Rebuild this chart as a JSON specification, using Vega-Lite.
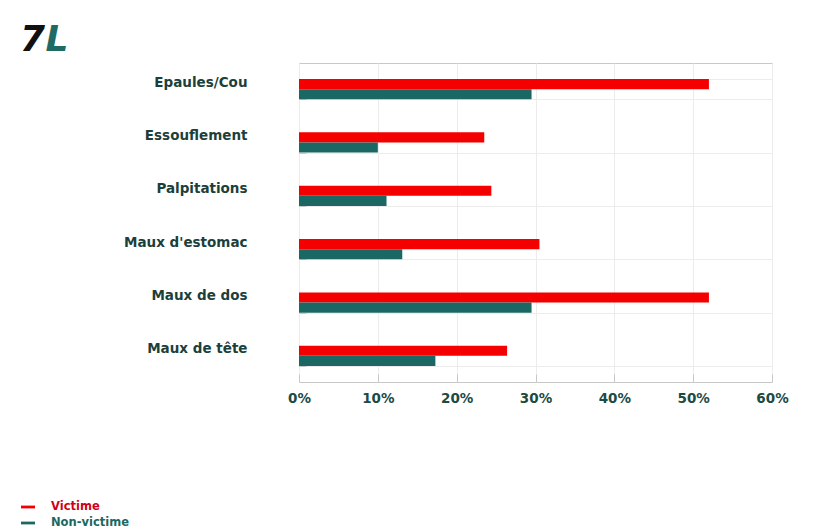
{
  "$schema": "https://vega.github.io/schema/vega-lite/v6.json",
  "autosize": "none",
  "width": 473,
  "height": 319,
  "padding": {"left": 299, "top": 63, "right": 54, "bottom": 149},
  "background": "white",
  "title": {
    "text": "7",
    "anchor": "start",
    "frame": "group",
    "dx": -279,
    "dy": 38,
    "font": "DejaVu Sans",
    "fontSize": 36,
    "fontWeight": "bold",
    "fontStyle": "italic",
    "color": "#111111",
    "offset": 0
  },
  "data": {
    "values": [
      {"cat": "Epaules/Cou", "group": "Victime", "value": 52},
      {"cat": "Epaules/Cou", "group": "Non-victime", "value": 29.5},
      {"cat": "Essouflement", "group": "Victime", "value": 23.5},
      {"cat": "Essouflement", "group": "Non-victime", "value": 10},
      {"cat": "Palpitations", "group": "Victime", "value": 24.4},
      {"cat": "Palpitations", "group": "Non-victime", "value": 11.1},
      {"cat": "Maux d'estomac", "group": "Victime", "value": 30.5},
      {"cat": "Maux d'estomac", "group": "Non-victime", "value": 13.1},
      {"cat": "Maux de dos", "group": "Victime", "value": 52},
      {"cat": "Maux de dos", "group": "Non-victime", "value": 29.5},
      {"cat": "Maux de tête", "group": "Victime", "value": 26.4},
      {"cat": "Maux de tête", "group": "Non-victime", "value": 17.3}
    ]
  },
  "mark": {"type": "bar"},
  "encoding": {
    "y": {
      "field": "cat",
      "type": "nominal",
      "sort": ["Epaules/Cou", "Essouflement", "Palpitations", "Maux d'estomac", "Maux de dos", "Maux de tête"],
      "scale": {"paddingInner": 0.62, "paddingOuter": 0.3},
      "axis": {
        "title": "L",
        "titleAngle": 0,
        "titleX": -254,
        "titleY": -13,
        "titleAlign": "left",
        "titleBaseline": "alphabetic",
        "titleFont": "DejaVu Sans",
        "titleFontSize": 36,
        "titleFontWeight": "bold",
        "titleFontStyle": "italic",
        "titleColor": "#1f6b63",
        "domain": false,
        "ticks": true,
        "tickBand": "extent",
        "tickSize": -7,
        "tickColor": "#c8c8c8",
        "grid": true,
        "gridColor": "#ececec",
        "labelPadding": 59,
        "labelOffset": -7,
        "labelFont": "DejaVu Sans",
        "labelFontSize": 13.5,
        "labelFontWeight": "bold",
        "labelColor": "#1c3f3b"
      }
    },
    "yOffset": {"field": "group", "type": "nominal", "sort": ["Victime", "Non-victime"], "scale": {"paddingInner": 0, "paddingOuter": 0}},
    "x": {
      "field": "value",
      "type": "quantitative",
      "scale": {"domain": [0, 60], "nice": false},
      "axis": {
        "title": null,
        "values": [0, 10, 20, 30, 40, 50, 60],
        "labelExpr": "datum.value + '%'",
        "labelFlush": false,
        "domain": false,
        "tickSize": -8,
        "tickColor": "#c8c8c8",
        "grid": true,
        "gridColor": "#ececec",
        "labelPadding": 17,
        "labelFont": "DejaVu Sans",
        "labelFontSize": 13.5,
        "labelFontWeight": "bold",
        "labelColor": "#1c4a45"
      }
    },
    "color": {
      "field": "group",
      "type": "nominal",
      "sort": ["Victime", "Non-victime"],
      "scale": {"domain": ["Victime", "Non-victime"], "range": ["#f50000", "#1b6763"]},
      "legend": {
        "title": null,
        "orient": "none",
        "legendX": -279,
        "legendY": 436,
        "symbolType": "M-1,-0.2H1V0.2H-1Z",
        "symbolSize": 196,
        "rowPadding": 2,
        "labelOffset": 15,
        "labelFont": "DejaVu Sans",
        "labelFontSize": 11.5,
        "labelFontWeight": "bold",
        "encode": {
          "labels": {
            "update": {
              "fill": {"signal": "datum.label === 'Victime' ? '#d0001a' : '#1b6763'"}
            }
          }
        }
      }
    }
  },
  "config": {
    "view": {"stroke": "#c8c8c8", "strokeWidth": 1}
  }
}
